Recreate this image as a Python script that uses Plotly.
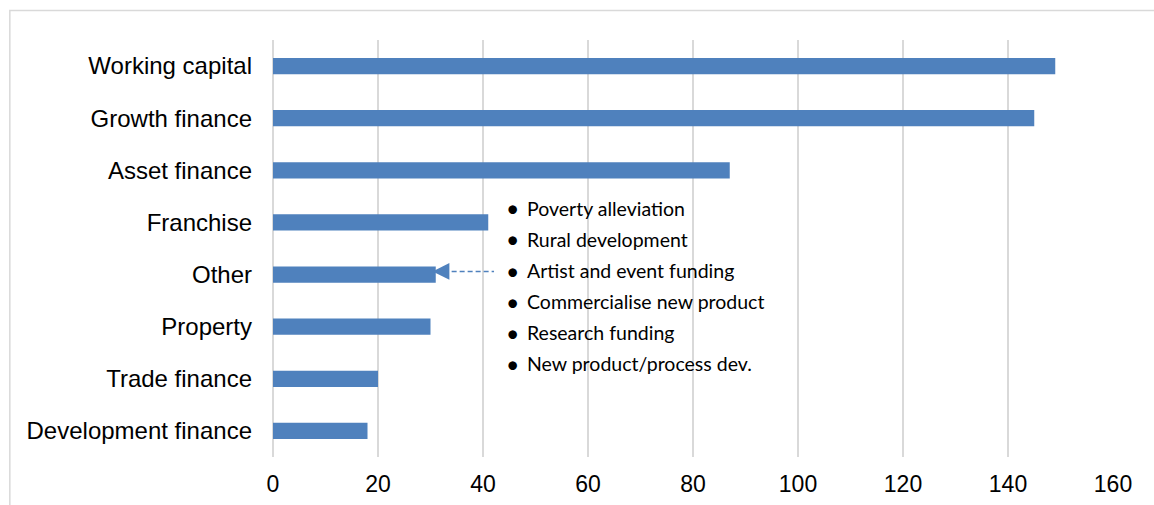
import plotly.graph_objects as go

# Funding purposes and number of responses
categories = [
    "Working capital",
    "Growth finance",
    "Asset finance",
    "Franchise",
    "Other",
    "Property",
    "Trade finance",
    "Development finance",
]
values = [149, 145, 87, 41, 31, 30, 20, 18]

# Breakdown of the "Other" category
other_items = [
    "Poverty alleviation",
    "Rural development",
    "Artist and event funding",
    "Commercialise new product",
    "Research funding",
    "New product/process dev.",
]

x_ticks = [0, 20, 40, 60, 80, 100, 120, 140, 160]

BAR_COLOR = "#4f81bd"
GRID_COLOR = "#d9d9d9"

fig = go.Figure(
    go.Bar(
        x=values,
        y=categories,
        orientation="h",
        marker=dict(color=BAR_COLOR, line=dict(width=0)),
        width=0.31,
        hoverinfo="x+y",
    )
)

fig.update_layout(
    width=1154,
    height=505,
    margin=dict(l=273, r=41, t=40, b=48),
    paper_bgcolor="white",
    plot_bgcolor="white",
    showlegend=False,
    font=dict(family="Liberation Sans, Arial, sans-serif", color="#000000"),
)

fig.update_xaxes(
    range=[0, 160],
    tickvals=x_ticks,
    showgrid=True,
    gridcolor=GRID_COLOR,
    gridwidth=1.6,
    zeroline=True,
    zerolinecolor=GRID_COLOR,
    zerolinewidth=1.6,
    showline=False,
    tickfont=dict(size=23, color="#000000"),
    ticks="",
    ticklabelstandoff=11,
    automargin=False,
)

fig.update_yaxes(
    autorange="reversed",
    showgrid=False,
    zeroline=False,
    showline=False,
    tickfont=dict(size=24, color="#000000"),
    ticks="",
    ticklabelstandoff=20,
    automargin=False,
)

# Light frame around the chart
fig.add_shape(
    type="rect",
    xref="paper", yref="paper",
    x0=-0.3133, x1=1.2, y0=-0.3, y1=1.0709,
    line=dict(color=GRID_COLOR, width=1.5),
    fillcolor="rgba(0,0,0,0)",
    layer="below",
)

# Dashed pointer from the list to the "Other" bar
other_idx = categories.index("Other")
other_val = values[other_idx]
arrow_y = other_idx - 0.06
list_x_tail = 42.1
fig.add_shape(
    type="line",
    xref="x", yref="y",
    x0=other_val + 1.5, x1=list_x_tail,
    y0=arrow_y, y1=arrow_y,
    line=dict(color=BAR_COLOR, width=1.5, dash="5px,3px"),
)
fig.add_annotation(
    x=other_val - 0.6, y=arrow_y,
    ax=other_val + 2.0, ay=arrow_y,
    xref="x", yref="y", axref="x", ayref="y",
    text="",
    showarrow=True,
    arrowhead=2,
    arrowsize=2.4,
    arrowwidth=1.4,
    arrowcolor=BAR_COLOR,
)

# Bulleted list of the "Other" purposes
list_start = 2.73
list_step = 0.597
bullet_x = 45.7
text_x = 48.0
for i, item in enumerate(other_items):
    yy = list_start + i * list_step
    fig.add_annotation(
        x=bullet_x, y=yy, xref="x", yref="y",
        text="•", showarrow=False,
        xanchor="center", yanchor="middle",
        font=dict(family="Lato, sans-serif", size=23, color="#000000"),
    )
    fig.add_annotation(
        x=text_x, y=yy, xref="x", yref="y",
        text=item, showarrow=False,
        xanchor="left", yanchor="middle",
        font=dict(family="Lato, sans-serif", size=19.5, color="#000000"),
    )

fig.write_html("out.html")
